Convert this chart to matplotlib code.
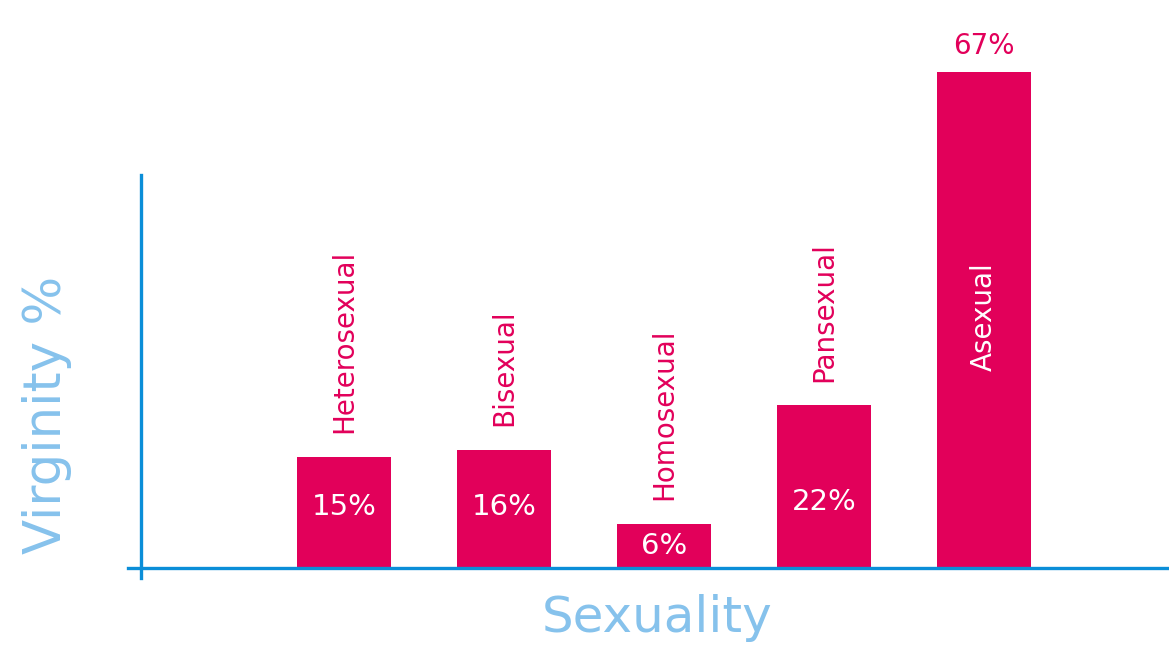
import matplotlib.pyplot as plt

# datos del gráfico
categorias = ['Heterosexual', 'Bisexual', 'Homosexual', 'Pansexual', 'Asexual']
virginidad = [15, 16, 6, 22, 67]
etiquetas = ['15%', '16%', '6%', '22%', '67%']

magenta = '#E2005A'
azul = '#0B8ED8'
azul_claro = '#86C2EC'

W, H = 1169, 647
escala = 7.4  # px por punto porcentual
fig = plt.figure(figsize=(W / 100, H / 100), dpi=100)

# ejes: de x=128px a la derecha, de y=568px (base) hasta arriba
ax = fig.add_axes([128 / W, (H - 568) / H, 1 - 128 / W, 568 / H])
ax.set_xlim(-1.35, 5.156)
ax.set_ylim(0, 568 / escala)

x = list(range(len(categorias)))
ax.bar(x, virginidad, width=0.5875, color=magenta, zorder=2)

for i, (cat, v, lab) in enumerate(zip(categorias, virginidad, etiquetas)):
    if cat == 'Asexual':
        # etiqueta dentro de la barra y porcentaje encima
        ax.text(i, v - 33, cat, rotation=90, ha='center', va='center',
                color='white', fontsize=20)
        ax.text(i, v + 3.6, lab, ha='center', va='center', color=magenta, fontsize=20)
    else:
        ax.text(i, v + 3.2, cat, rotation=90, ha='center', va='bottom',
                color=magenta, fontsize=20)
        if v < 10:
            y_lab = v / 2
        elif v > 20:
            y_lab = 8.9
        else:
            y_lab = 8.3
        ax.text(i, y_lab, lab, ha='center', va='center', color='white', fontsize=21)

for s in ['top', 'right', 'left']:
    ax.spines[s].set_visible(False)
ax.spines['bottom'].set_color(azul)
ax.spines['bottom'].set_linewidth(2.4)
ax.spines['bottom'].set_zorder(3)
ax.set_xticks([])
ax.set_yticks([])

# eje vertical
ax.plot([-1.269, -1.269], [-10 / escala, 393 / escala], color=azul, lw=2.4, clip_on=False)

fig.text(47 / W, 1 - 415 / H, 'Virginity %', rotation=90, ha='center', va='center',
         color=azul_claro, fontsize=37)
fig.text(657 / W, 1 - 618 / H, 'Sexuality', ha='center', va='center',
         color=azul_claro, fontsize=36)

fig.savefig('out.png', dpi=100)
